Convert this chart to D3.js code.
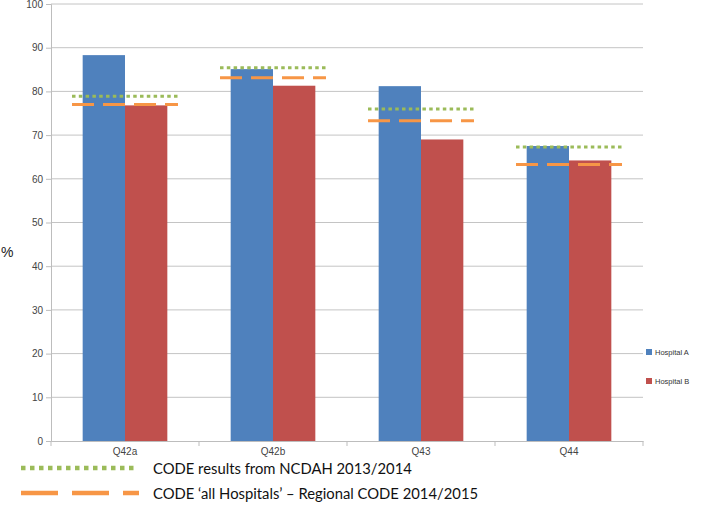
<!DOCTYPE html>
<html>
<head>
<meta charset="utf-8">
<script src="https://cdn.jsdelivr.net/npm/d3@7"></script>
<style>
  body { margin: 0; background: #fff; }
  svg { display: block; font-family: Lato, "Open Sans", sans-serif; }
</style>
</head>
<body>
<svg id="chart" width="709" height="528"></svg>
<script>
'use strict'

// ------------------------------------------------------------ DATA -----
let categories = ['Q42a', 'Q42b', 'Q43', 'Q44']
let seriesNames = ['Hospital A', 'Hospital B']
let hospitalA = [88.3, 85.1, 81.2, 67.5]
let hospitalB = [76.8, 81.3, 69.0, 64.2]
let ncdah = [78.9, 85.4, 76.0, 67.3]        // green dotted
let regional = [77.0, 83.1, 73.3, 63.3]     // orange dashed
let yTicks = [0, 10, 20, 30, 40, 50, 60, 70, 80, 90, 100]
let refLabels = ['CODE results from NCDAH 2013/2014',
                 'CODE \u2018all Hospitals\u2019 \u2013 Regional CODE 2014/2015']

let colors = ['#4f81bd', '#c0504d']
let green = '#9bbb59'
let orange = '#f79646'

let svg = d3.select('#chart')

// ------------------------------------------------------------ SCALES ---
let plotLeft = 51, plotRight = 643, plotTop = 4, plotBottom = 441

let x = d3.scaleBand().domain(categories).range([plotLeft, plotRight])
let bw = x.bandwidth()
let xInner = d3.scaleBand().domain(seriesNames).range([bw * 0.214, bw * 0.786])
let y = d3.scaleLinear().domain([0, 100]).range([plotBottom, plotTop])

// ------------------------------------------------------------ GRID -----
svg.append('g')
  .selectAll('line')
  .data(yTicks.filter(t => t > 0))
  .enter().append('line')
    .attr('x1', plotLeft).attr('x2', plotRight)
    .attr('y1', d => y(d)).attr('y2', d => y(d))
    .attr('stroke', '#c4c4c4').attr('stroke-width', 1)

// ------------------------------------------------------------ BARS -----
let rows = categories.map((c, i) => ({cat: c, values: [hospitalA[i], hospitalB[i]]}))

let groups = svg.append('g').selectAll('g')
  .data(rows)
  .enter().append('g')
    .attr('transform', d => 'translate(' + x(d.cat) + ',0)')

groups.selectAll('rect')
  .data(d => d.values.map((v, j) => ({name: seriesNames[j], v: v, j: j})))
  .enter().append('rect')
    .attr('x', d => xInner(d.name))
    .attr('width', xInner.bandwidth())
    .attr('y', d => y(d.v))
    .attr('height', d => y(0) - y(d.v))
    .attr('fill', d => colors[d.j])

// ----------------------------------------------------- REFERENCE LINES -
function refLine(vals, color, dash) {
  svg.append('g').selectAll('line')
    .data(vals)
    .enter().append('line')
      .attr('x1', (d, i) => x(categories[i]) + bw * 0.142)
      .attr('x2', (d, i) => x(categories[i]) + bw * 0.858)
      .attr('y1', d => y(d)).attr('y2', d => y(d))
      .attr('stroke', color)
      .attr('stroke-width', 3)
      .attr('stroke-dasharray', dash)
}
refLine(ncdah, green, '3.5,3.3')
refLine(regional, orange, '22,9')

// ------------------------------------------------------------ AXES -----
let yAxis = d3.axisLeft(y).tickValues(yTicks).tickSize(5).tickPadding(3)
let gy = svg.append('g')
  .attr('transform', 'translate(' + plotLeft + ',0)')
  .call(yAxis)
gy.select('.domain').attr('stroke', '#bdbdbd')
gy.selectAll('.tick line').attr('stroke', '#bdbdbd')
gy.selectAll('.tick text').attr('fill', '#444').style('font-size', '10px')
  .style('font-family', '"Liberation Sans", Arial, sans-serif')

let xAxis = d3.axisBottom(x).tickSize(0).tickPadding(7)
let gx = svg.append('g')
  .attr('transform', 'translate(0,' + plotBottom + ')')
  .call(xAxis)
gx.select('.domain').attr('stroke', '#bdbdbd')
gx.selectAll('.tick text').attr('fill', '#444').style('font-size', '10px')
  .style('font-family', '"Liberation Sans", Arial, sans-serif')

// category boundary ticks
gx.append('g').selectAll('line')
  .data(categories.concat(['end']))
  .enter().append('line')
    .attr('x1', (d, i) => i < categories.length ? x(d) : plotRight)
    .attr('x2', (d, i) => i < categories.length ? x(d) : plotRight)
    .attr('y1', 0).attr('y2', 5)
    .attr('stroke', '#bdbdbd')

svg.append('text')
  .attr('x', 1).attr('y', 257)
  .style('font-size', '14px')
  .style('font-family', '"Liberation Sans", Arial, sans-serif')
  .attr('fill', '#222')
  .text('%')

// ------------------------------------------------------------ LEGENDS --
let leg = svg.append('g').attr('transform', 'translate(646,352)')
seriesNames.forEach((n, i) => {
  leg.append('rect')
    .attr('x', 0).attr('y', i * 29 - 3)
    .attr('width', 6).attr('height', 6)
    .attr('fill', colors[i])
  leg.append('text')
    .attr('x', 9).attr('y', i * 29 + 3)
    .style('font-size', '7.5px')
    .style('font-family', '"Liberation Sans", Arial, sans-serif')
    .attr('fill', '#333')
    .text(n)
})

let bot = svg.append('g')
bot.append('line')
  .attr('x1', 21).attr('x2', 137).attr('y1', 468).attr('y2', 468)
  .attr('stroke', green).attr('stroke-width', 4.5)
  .attr('stroke-dasharray', '4.5,4.5')
bot.append('line')
  .attr('x1', 21).attr('x2', 139).attr('y1', 493).attr('y2', 493)
  .attr('stroke', orange).attr('stroke-width', 4.5)
  .attr('stroke-dasharray', '37,14')
refLabels.forEach((t, i) => {
  bot.append('text')
    .attr('x', 153).attr('y', 474 + i * 25)
    .style('font-size', '14.8px')
    .attr('fill', '#111')
    .text(t)
})
</script>
</body>
</html>
